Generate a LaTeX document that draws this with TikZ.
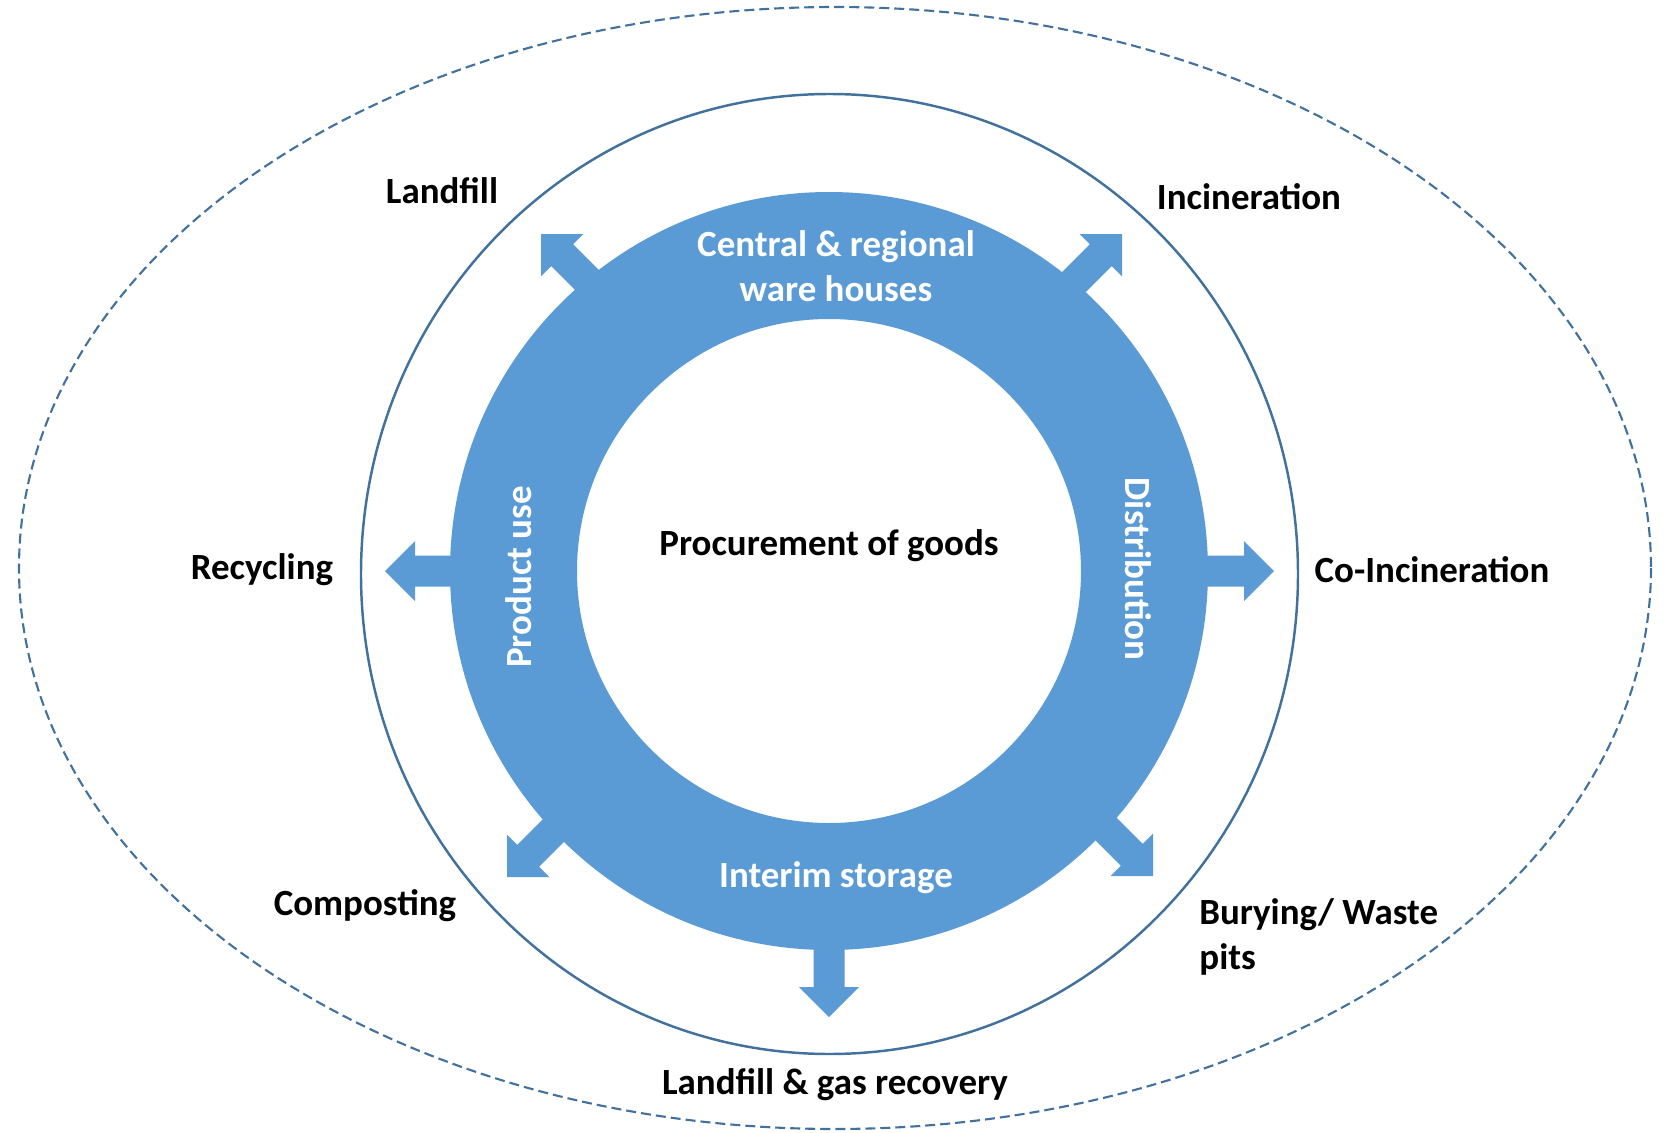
\documentclass[tikz,border=0pt]{standalone}
\usepackage{fontspec}
\setmainfont{Carlito}
\usetikzlibrary{positioning}

\definecolor{ringblue}{HTML}{5B9BD5}
\definecolor{lineblue}{HTML}{41719C}

\tikzset{
  lbl/.style={font=\fontsize{10.5}{12.7}\selectfont\bfseries},
  inlbl/.style={lbl,text=white,align=center},
  blockarrow/.pic={
    \fill[ringblue] (0,0) -- (-30,30) -- (-30,15.5) -- (-100,15.5)
      -- (-100,-15.5) -- (-30,-15.5) -- (-30,-30) -- cycle;
  }
}

\begin{document}
\begin{tikzpicture}[x=0.01cm,y=-0.01cm]
  \useasboundingbox (0,0) rectangle (1665,1133);
  \coordinate (c) at (829,571);

  % outer dashed ellipse and the solid circle
  \draw[lineblue,line width=0.6pt,dash pattern=on 0.1cm off 0.05cm]
    (835,568) ellipse [x radius=816,y radius=561];
  \draw[lineblue,line width=0.7pt]
    (829.5,574) ellipse [x radius=468.5,y radius=480];

  % the ring
  \fill[ringblue,even odd rule] (c) circle [radius=379] (c) circle [radius=252];

  % arrows out of the ring
  \coordinate (t_w)  at (385,571);
  \coordinate (t_e)  at (1274,571);
  \coordinate (t_s)  at (829,1017);
  \coordinate (t_nw) at (541,234);
  \coordinate (t_ne) at (1122,234);
  \coordinate (t_sw) at (507,877);
  \coordinate (t_se) at (1153,876);
  \pic[rotate=180] at (t_w)  {blockarrow};
  \pic             at (t_e)  {blockarrow};
  \pic[rotate=-90] at (t_s)  {blockarrow};
  \pic[rotate=135] at (t_nw) {blockarrow};
  \pic[rotate=45]  at (t_ne) {blockarrow};
  \pic[rotate=-135] at (t_sw) {blockarrow};
  \pic[rotate=-45] at (t_se) {blockarrow};

  % texts on the ring
  \node[lbl]   (proc) at (829,546)  {Procurement of goods};
  \node[inlbl] (ware) at (836,266)  {Central \& regional\\ware houses};
  \node[inlbl] (int)  at (836,878)  {Interim storage};
  \node[inlbl,rotate=90]  (use)  at (519,577)  {Product use};
  \node[inlbl,rotate=-90] (dist) at (1138,569) {Distribution};

  % outside texts
  \node[lbl] (landfill) at (442,191)  {Landfill};
  \node[lbl] (incin)    at (1249,197) {Incineration};
  \node[lbl] (recyc)    at (262,570)  {Recycling};
  \node[lbl] (coinc)    at (1432,570) {Co-Incineration};
  \node[lbl] (compost)  at (365,906)  {Composting};
  \node[lbl,align=left,anchor=north west] (bury) at (1187,886) {Burying/ Waste\\pits};
  \node[lbl] (gas)      at (835,1085) {Landfill \& gas recovery};
\end{tikzpicture}
\end{document}
